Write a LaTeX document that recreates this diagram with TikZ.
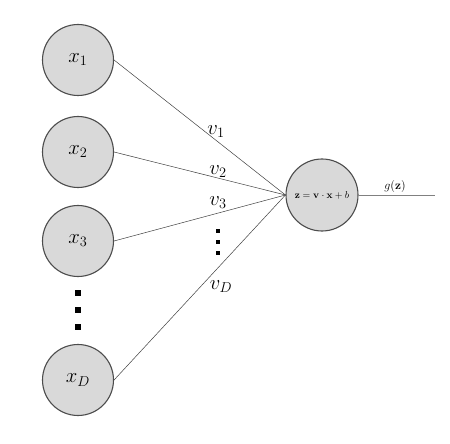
\documentclass[tikz,border=0pt]{standalone}
\usepackage{amsmath}
\begin{document}
\begin{tikzpicture}[x=1bp,y=-1bp,
  neuron/.style={circle,draw=black!70,fill=black!15,line width=1.1bp,minimum size=71bp,inner sep=0pt},
  bigtext/.style={font=\huge},
  conn/.style={draw=black!75,line width=0.5bp},
  outconn/.style={draw=black!50,line width=0.9bp},
  bigdot/.style={fill=black,inner sep=0pt,minimum size=6bp},
  smalldot/.style={fill=black,inner sep=0pt,minimum size=4.5bp},
  wlabel/.style={font=\huge,inner sep=0pt}
]
\useasboundingbox (0,0) rectangle (450,444);
\node[neuron,bigtext] (x1) at (78,60) {$x_1$};
\node[neuron,bigtext] (x2) at (78,152) {$x_2$};
\node[neuron,bigtext] (x3) at (78,241) {$x_3$};
\node[neuron,bigtext] (xD) at (78,380) {$x_D$};
\node[neuron,minimum size=72bp,font=\normalsize] (z) at (322,195) {$\mathbf{z}=\mathbf{v}\cdot\mathbf{x}+b$};
\coordinate (out) at (435,195);
\draw[conn] (x1.east) -- (z.west);
\draw[conn] (x2.east) -- (z.west);
\draw[conn] (x3.east) -- (z.west);
\draw[conn] (xD.east) -- (z.west);
\draw[outconn] (z.east) -- (out);
\node[font=\large,inner sep=0pt] (g) at (395,187) {$g(\mathbf{z})$};
\node[wlabel] (v1) at (216,132) {$v_1$};
\node[wlabel] (v2) at (218,172) {$v_2$};
\node[wlabel] (v3) at (218,203) {$v_3$};
\node[wlabel] (vD) at (221,287) {$v_D$};
\node[bigdot] (d1) at (78,293) {};
\node[bigdot] (d2) at (78,310) {};
\node[bigdot] (d3) at (78,327) {};
\node[smalldot] (m1) at (218,231) {};
\node[smalldot] (m2) at (218,242) {};
\node[smalldot] (m3) at (218,253) {};
\end{tikzpicture}
\end{document}
